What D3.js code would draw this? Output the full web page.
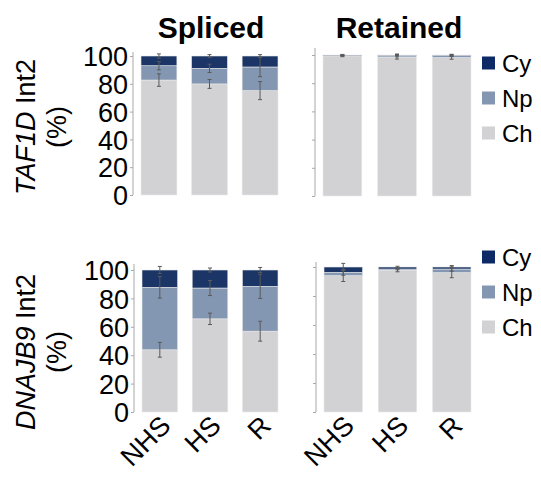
<!DOCTYPE html>
<html>
<head>
<meta charset="utf-8">
<script src="https://cdn.jsdelivr.net/npm/d3@7.9.0/dist/d3.min.js"></script>
<style>
  body { margin: 0; background: #fff; }
  svg { display: block; font-family: "Liberation Sans", Arial, sans-serif; }
  .axis path, .axis line { stroke: #a8a8a8; }
</style>
</head>
<body>
<div id="chart"></div>
<script>
// --- data (values in %, stacked Ch -> Np -> Cy) ---
const conditions = ['NHS', 'HS', 'R'];
const fractions  = ['Ch', 'Np', 'Cy'];
const legendOrder = ['Cy', 'Np', 'Ch'];

// per condition: [Ch, Np, Cy]
const taf1dSpliced     = [[82.7, 10.3, 7.0], [79.9, 11.2, 8.9], [75.1, 17.0, 7.9]];
const taf1dSplicedErr  = [[4.5, 3.0, 1.5],   [3.2, 3.0, 1.0],   [6.5, 7.0, 1.0]];
const taf1dRetained    = [[99.4, 0.2, 0.4],  [98.6, 1.1, 0.3],  [98.2, 1.5, 0.3]];
const taf1dRetainedErr = [[0.6, 0.3, 0.4],   [1.5, 1.0, 0.3],   [1.2, 0.8, 0.3]];
const dnajb9Spliced     = [[43.8, 44.0, 12.2], [65.6, 21.7, 12.7], [56.9, 31.6, 11.5]];
const dnajb9SplicedErr  = [[5.2, 7.6, 2.5],    [4.0, 5.3, 1.4],    [7.0, 8.5, 1.8]];
const dnajb9Retained    = [[94.0, 2.3, 3.7],   [97.7, 0.9, 1.4],   [96.1, 2.5, 1.4]];
const dnajb9RetainedErr = [[4.0, 2.0, 2.5],    [1.0, 0.5, 0.5],    [3.5, 1.5, 1.0]];

const yTicks = [0, 20, 40, 60, 80, 100];
const colTitles = ['Spliced', 'Retained'];

const colors = {Cy: '#1b3566', Np: '#8497b2', Ch: '#d2d1d3'};
const legendColors = {Cy: '#0e2a66', Np: '#8497b2', Ch: '#d2d1d3'};

const W = 541, H = 478;
const svg = d3.select('#chart').append('svg').attr('width', W).attr('height', H);

const panels = [
  {vals: taf1dSpliced,   err: taf1dSplicedErr,   x: [141, 278], y: [195, 56], ax: 133, top: 52, labels: true},
  {vals: taf1dRetained,  err: taf1dRetainedErr,  x: [323, 471], y: [196, 55], ax: 315, top: 48, labels: false},
  {vals: dnajb9Spliced,  err: dnajb9SplicedErr,  x: [142, 278], y: [412, 270], ax: 134, top: 264, labels: true},
  {vals: dnajb9Retained, err: dnajb9RetainedErr, x: [324, 471], y: [412, 267], ax: 316, top: 262, labels: false}
];

panels.forEach((p, pi) => {
  const x = d3.scaleBand().domain(conditions).range(p.x).paddingInner(0.29).paddingOuter(0);
  const y = d3.scaleLinear().domain([0, 100]).range(p.y);
  const g = svg.append('g');

  // axis
  const ax = g.append('g').attr('class', 'axis')
    .attr('transform', `translate(${p.ax},0)`)
    .call(d3.axisLeft(y).tickValues(yTicks).tickSize(3).tickSizeOuter(0).tickPadding(2)
      .tickFormat(p.labels ? d3.format('d') : ''));
  ax.select('.domain').remove();
  ax.append('line').attr('x1', 0).attr('x2', 0).attr('y1', p.top).attr('y2', p.y[0])
    .attr('stroke', '#a8a8a8');
  ax.selectAll('text').attr('fill', '#000').style('font-size', '27px').attr('dy', '0.36em');

  // stacked bars
  const rows = conditions.map((c, i) => {
    let acc = 0;
    return fractions.map((f, j) => {
      const y0 = acc; acc += p.vals[i][j];
      return {cond: c, frac: f, y0, y1: acc, err: p.err[i][j]};
    });
  }).flat();

  g.selectAll('rect.seg').data(rows).join('rect').attr('class', 'seg')
    .attr('x', d => x(d.cond))
    .attr('width', x.bandwidth())
    .attr('y', d => y(d.y1))
    .attr('height', d => y(d.y0) - y(d.y1))
    .attr('fill', d => colors[d.frac])
    .attr('stroke', '#eaeaea').attr('stroke-width', 0.6);

  // error bars at each cumulative top
  const eb = g.selectAll('g.err').data(rows).join('g').attr('class', 'err')
    .attr('transform', d => `translate(${x(d.cond) + x.bandwidth() / 2},0)`)
    .attr('stroke', '#5a5a5a').attr('stroke-width', 1);
  eb.append('line').attr('y1', d => y(d.y1 + d.err)).attr('y2', d => y(d.y1 - d.err));
  eb.append('line').attr('x1', -2).attr('x2', 2).attr('y1', d => y(d.y1 + d.err)).attr('y2', d => y(d.y1 + d.err));
  eb.append('line').attr('x1', -2).attr('x2', 2).attr('y1', d => y(d.y1 - d.err)).attr('y2', d => y(d.y1 - d.err));

  // x labels on bottom row
  if (pi >= 2) {
    g.selectAll('text.xl').data(conditions).join('text').attr('class', 'xl')
      .attr('transform', d => `translate(${x(d) + x.bandwidth() / 2 - 1},${p.y[0] + 2}) rotate(-45)`)
      .attr('text-anchor', 'end').attr('dy', '0.7em')
      .style('font-size', '27px').text(d => d);
  }
});

// column titles
svg.selectAll('text.ct').data(colTitles).join('text').attr('class', 'ct')
  .attr('x', (d, i) => [211, 399][i]).attr('y', 38)
  .attr('text-anchor', 'middle').style('font-size', '30px').style('font-weight', 'bold')
  .text(d => d);

// y titles
const yTitles = [{gene: 'TAF1D', cy: 127}, {gene: 'DNAJB9', cy: 352}];
yTitles.forEach(t => {
  const tg = svg.append('g').attr('transform', `translate(0,${t.cy}) rotate(-90)`);
  const t1 = tg.append('text').attr('x', 0).attr('y', 35).attr('text-anchor', 'middle').style('font-size', '27px');
  t1.append('tspan').style('font-style', 'italic').text(t.gene);
  t1.append('tspan').text(' Int2');
  tg.append('text').attr('x', 0).attr('y', 66).attr('text-anchor', 'middle').style('font-size', '27px').text('(%)');
});

// legends
[{top: 63}, {top: 257}].forEach(l => {
  const lg = svg.append('g').selectAll('g').data(legendOrder).join('g')
    .attr('transform', (d, i) => `translate(482,${l.top + i * 35})`);
  lg.append('rect').attr('x', 0).attr('y', -6.5).attr('width', 13).attr('height', 13)
    .attr('fill', d => legendColors[d]);
  lg.append('text').attr('x', 20).attr('dy', '0.36em').style('font-size', '24px').text(d => d);
});
</script>
</body>
</html>
